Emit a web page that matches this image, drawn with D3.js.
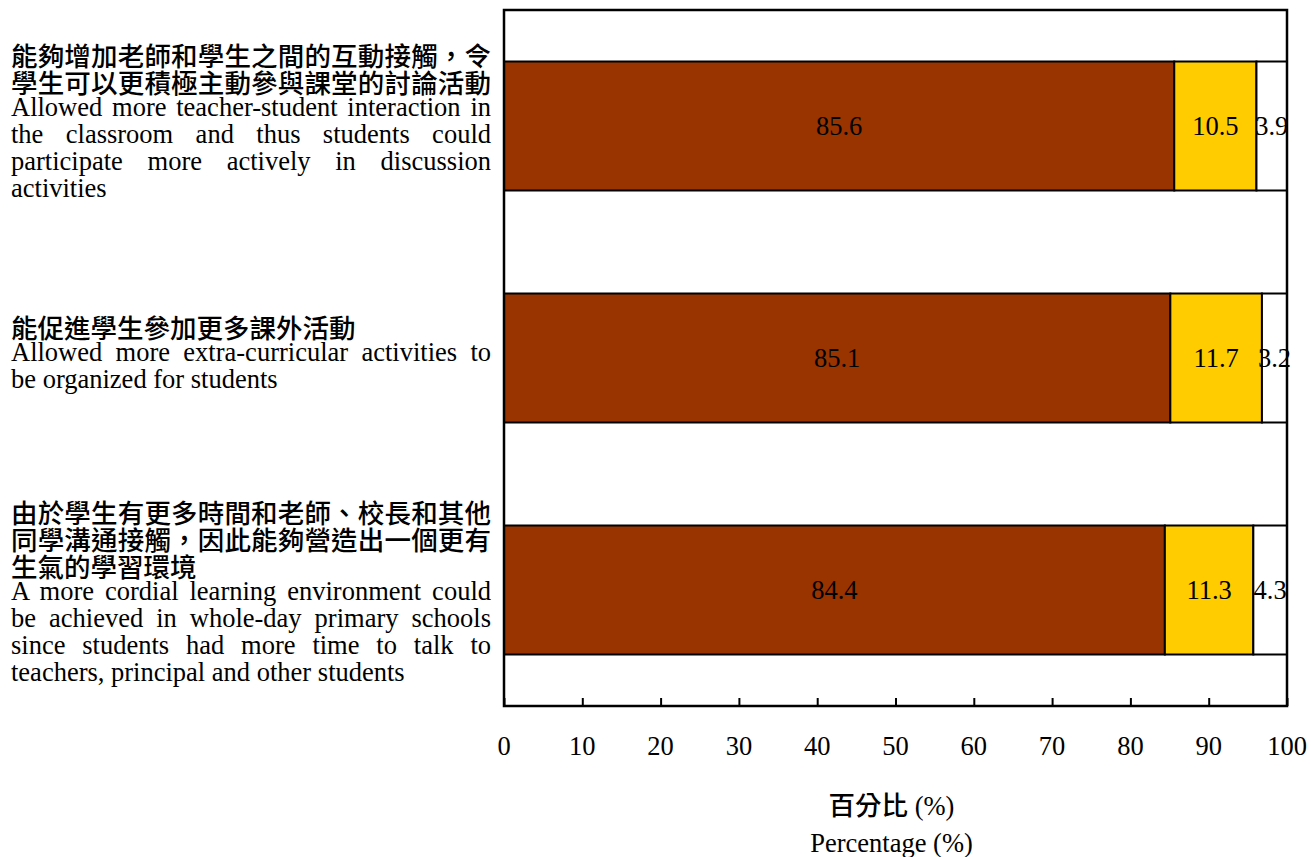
<!DOCTYPE html>
<html>
<head>
<meta charset="utf-8">
<script src="https://cdn.jsdelivr.net/npm/d3@7"></script>
<style>
  html, body { margin: 0; padding: 0; background: #fff; }
  svg { display: block; }
  .serif { font-family: "Liberation Serif", "Times New Roman", serif; }
  .cjk { font-family: "Noto Sans CJK TC", "Noto Sans CJK SC", sans-serif; font-weight: 500; }
</style>
</head>
<body>
<svg id="chart" width="1311" height="857"></svg>
<script>
// Category labels: Chinese lines followed by English lines
const categoriesZh = [
  ["能夠增加老師和學生之間的互動接觸，令", "學生可以更積極主動參與課堂的討論活動"],
  ["能促進學生參加更多課外活動"],
  ["由於學生有更多時間和老師、校長和其他", "同學溝通接觸，因此能夠營造出一個更有", "生氣的學習環境"]
];
const categoriesEn = [
  ["Allowed more teacher-student interaction in", "the classroom and thus students could", "participate more actively in discussion", "activities"],
  ["Allowed more extra-curricular activities to", "be organized for students"],
  ["A more cordial learning environment could", "be achieved in whole-day primary schools", "since students had more time to talk to", "teachers, principal and other students"]
];
// Percentages for the three stacked segments
const seriesAgree = [85.6, 85.1, 84.4];
const seriesNeutral = [10.5, 11.7, 11.3];
const seriesDisagree = [3.9, 3.2, 4.3];
const xTicks = [0, 10, 20, 30, 40, 50, 60, 70, 80, 90, 100];
const axisTitleZh = "百分比";
const axisTitleEn = "Percentage (%)";

const colors = ["#993300", "#FFCC00", "#FFFFFF"];
const series = [seriesAgree, seriesNeutral, seriesDisagree];

const svg = d3.select("#chart");
const plotLeft = 504, plotRight = 1287, plotTop = 10, plotBottom = 706;

const x = d3.scaleLinear().domain([0, 100]).range([plotLeft, plotRight]);
const y = d3.scaleBand().domain(d3.range(categoriesZh.length))
  .range([plotTop, plotBottom]).paddingInner(0.444).paddingOuter(0.222);

// Stacked bars
const stackData = categoriesZh.map((_, i) => {
  let acc = 0;
  return series.map((s, k) => {
    const seg = { i, k, x0: acc, x1: acc + s[i], v: s[i] };
    acc += s[i];
    return seg;
  });
}).flat();

const bars = svg.append("g");
bars.selectAll("rect").data(stackData).join("rect")
  .attr("x", d => x(d.x0))
  .attr("y", d => y(d.i))
  .attr("width", d => x(d.x1) - x(d.x0))
  .attr("height", y.bandwidth())
  .attr("fill", d => colors[d.k])
  .attr("stroke", "#000")
  .attr("stroke-width", 2);

bars.selectAll("text").data(stackData).join("text")
  .attr("class", "serif")
  .attr("x", d => (x(d.x0) + x(d.x1)) / 2)
  .attr("y", d => y(d.i) + y.bandwidth() / 2 + 9)
  .attr("text-anchor", "middle")
  .attr("font-size", 26.5)
  .attr("fill", "#000")
  .text(d => d3.format(".1f")(d.v));

// Inward tick marks along the bottom edge
const axisG = svg.append("g").attr("transform", `translate(0,${plotBottom})`);
const axis = d3.axisBottom(x).tickValues(xTicks).tickSize(-8).tickPadding(0).tickFormat("");
axisG.call(axis);
axisG.select(".domain").remove();
axisG.selectAll(".tick line").attr("stroke", "#000").attr("stroke-width", 2);

// Tick labels
svg.append("g").selectAll("text").data(xTicks).join("text")
  .attr("class", "serif")
  .attr("x", d => x(d))
  .attr("y", 755)
  .attr("text-anchor", "middle")
  .attr("font-size", 26.5)
  .text(d => d);

// Plot frame
svg.append("rect")
  .attr("x", plotLeft).attr("y", plotTop)
  .attr("width", plotRight - plotLeft).attr("height", plotBottom - plotTop)
  .attr("fill", "none").attr("stroke", "#000").attr("stroke-width", 2.5);

// Category labels, justified between textLeft and textRight
const textLeft = 11, textRight = 491, pitch = 27;
const blockShift = [-3, -3, 4];
const labels = svg.append("g");

function drawLine(str, yPos, isCjk, justify) {
  const t = labels.append("text")
    .attr("class", isCjk ? "cjk" : "serif")
    .attr("x", textLeft).attr("y", yPos)
    .attr("font-size", 26.5)
    .attr("fill", "#000")
    .text(str);
  if (justify) {
    const w = t.node().getComputedTextLength();
    const extra = (textRight - textLeft) - w;
    if (isCjk) {
      const n = [...str].length;
      if (n > 1) t.attr("letter-spacing", extra / (n - 1));
    } else {
      const spaces = (str.match(/ /g) || []).length;
      if (spaces > 0) t.attr("word-spacing", extra / spaces);
    }
  }
}

categoriesZh.forEach((zh, i) => {
  const en = categoriesEn[i];
  const n = zh.length + en.length;
  const center = y(i) + y.bandwidth() / 2;
  let base = center - (n - 1) / 2 * pitch + 6 + blockShift[i];
  zh.forEach((line, j) => {
    drawLine(line, base + 4, true, j < zh.length - 1 || [...line].length >= 18);
    base += pitch;
  });
  en.forEach((line, j) => {
    drawLine(line, base, false, j < en.length - 1);
    base += pitch;
  });
});

// Axis title
const cx = (plotLeft + plotRight) / 2 - 4;
const title = svg.append("text").attr("y", 815).attr("text-anchor", "middle")
  .attr("x", cx).attr("font-size", 26.5);
title.append("tspan").attr("class", "cjk").text(axisTitleZh);
title.append("tspan").attr("class", "serif").text(" (%)");

svg.append("text").attr("class", "serif")
  .attr("x", cx).attr("y", 852).attr("text-anchor", "middle")
  .attr("font-size", 26.5).text(axisTitleEn);
</script>
</body>
</html>
